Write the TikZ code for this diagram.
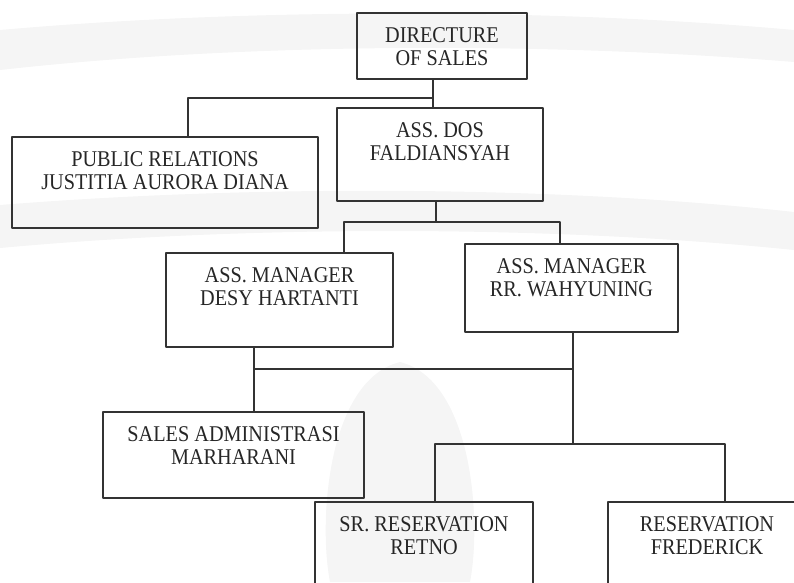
\documentclass[tikz,border=0pt]{standalone}
\usepackage{fontspec}
\setmainfont{Liberation Serif}[FakeStretch=0.9]
\begin{document}
\begin{tikzpicture}[x=1pt,y=-1pt,line join=round,line cap=round,
  wm/.style={fill=black!4},
  line/.style={draw=black!80,line width=1.2pt},
  unit/.style 2 args={draw=black!80,line width=1.2pt,inner sep=0pt,minimum width=#1pt,minimum height=#2pt},
  txt/.style={anchor=north,yshift=-15pt,align=center,inner sep=0pt,text=black!85,font=\fontsize{22.5}{23}\selectfont}]
	\useasboundingbox (0,0) rectangle (794,582);
	\clip (0,0) rectangle (794,582);
	% watermark
	\fill[wm] (0,30) .. controls (250,8) and (550,8) .. (794,30) -- (794,62) .. controls (550,42) and (250,42) .. (0,70) -- cycle;
	\fill[wm] (0,205) .. controls (250,185) and (550,185) .. (794,212) -- (794,250) .. controls (550,225) and (250,225) .. (0,248) -- cycle;
	\fill[wm] (400,362) .. controls (472,380) and (482,520) .. (470,582) -- (330,582) .. controls (318,520) and (328,380) .. (400,362) -- cycle;
	% boxes
	\node[unit={170}{66},label={[txt]north:DIRECTURE\\OF SALES}] (dir) at (442,46) {};
	\node[unit={306}{91},label={[txt]north:PUBLIC RELATIONS\\JUSTITIA AURORA DIANA}] (pr) at (165,182.5) {};
	\node[unit={206}{93},label={[txt]north:ASS. DOS\\FALDIANSYAH}] (dos) at (440,154.5) {};
	\node[unit={227}{94},label={[txt]north:ASS. MANAGER\\DESY HARTANTI}] (desy) at (279.5,300) {};
	\node[unit={213}{88},label={[txt]north:ASS. MANAGER\\RR. WAHYUNING}] (wahyu) at (571.5,288) {};
	\node[unit={261}{86},label={[txt]north:SALES ADMINISTRASI\\MARHARANI}] (adm) at (233.5,455) {};
	\node[unit={218}{98},label={[txt]north:SR. RESERVATION\\RETNO}] (retno) at (424,551) {};
	\node[unit={198}{98},label={[txt]north:RESERVATION\\FREDERICK}] (fred) at (707,551) {};
	% junctions
	\coordinate (j1) at (433,98);
	\coordinate (j1l) at (188,98);
	\coordinate (j2) at (436,222);
	\coordinate (j2l) at (344,222);
	\coordinate (j2r) at (560,222);
	\coordinate (j3) at (254,369);
	\coordinate (j3r) at (573,369);
	\coordinate (j4) at (573,444);
	\coordinate (j4l) at (435,444);
	\coordinate (j4r) at (725,444);
	% connectors
	\draw[line] (dir.south -| j1) -- (dos.north -| j1);
	\draw[line] (j1) -- (j1l) -- (pr.north -| j1l);
	\draw[line] (dos.south -| j2) -- (j2);
	\draw[line] (desy.north -| j2l) -- (j2l) -- (j2r) -- (wahyu.north -| j2r);
	\draw[line] (desy.south -| j3) -- (adm.north -| j3);
	\draw[line] (j3) -- (j3r);
	\draw[line] (wahyu.south -| j4) -- (j4);
	\draw[line] (retno.north -| j4l) -- (j4l) -- (j4r) -- (fred.north -| j4r);
\end{tikzpicture}
\end{document}
